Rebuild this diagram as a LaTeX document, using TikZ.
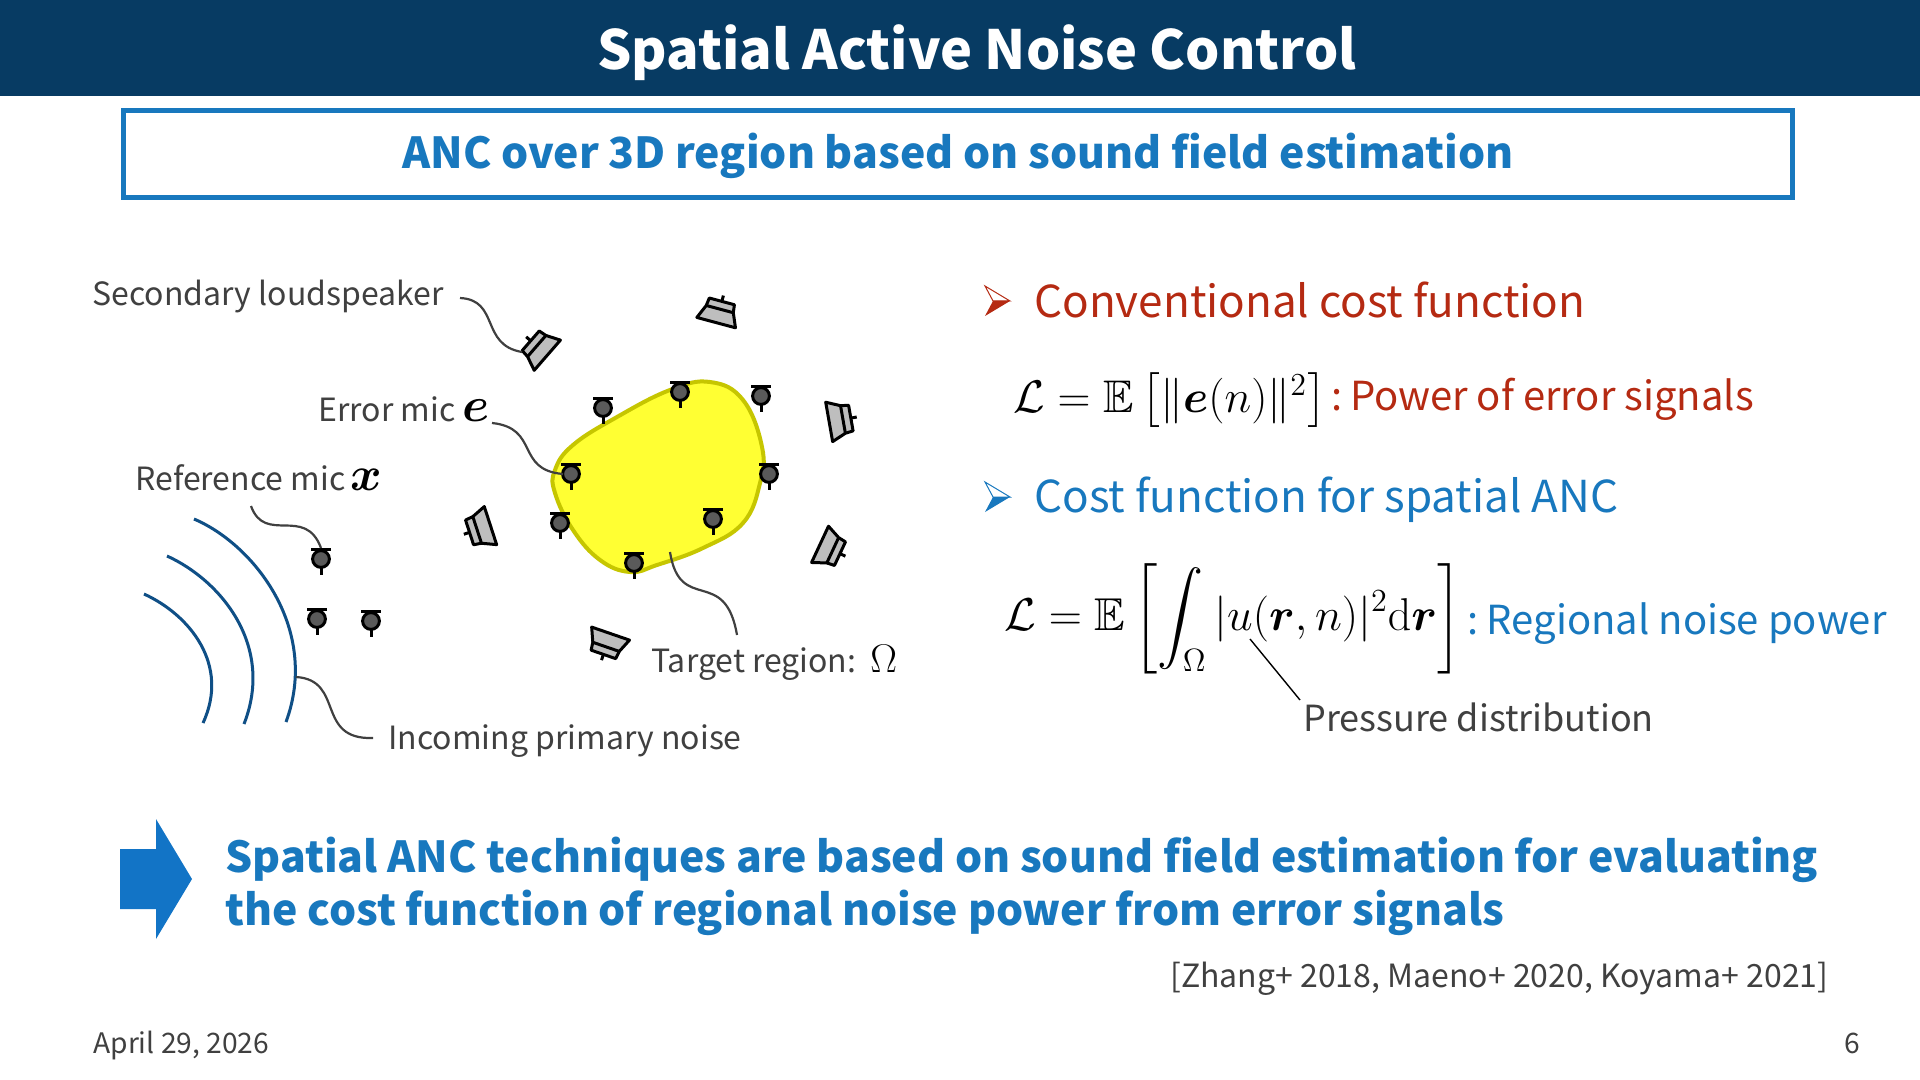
\RequirePackage{fix-cm}
\documentclass[tikz,border=0pt]{standalone}
\usepackage{amsmath,amssymb,bm}
\usepackage[no-math]{fontspec}
\setmainfont{Noto Sans CJK JP}
\usetikzlibrary{positioning, calc}
\definecolor{titlebar}{HTML}{073B63}
\definecolor{ancblue}{HTML}{1878BE}
\definecolor{arrowblue}{HTML}{1274C6}
\definecolor{ancred}{HTML}{B52A12}
\definecolor{textgray}{HTML}{404040}
\definecolor{wave}{HTML}{0F4F86}
\definecolor{regionfill}{HTML}{FFFF33}
\definecolor{regionedge}{HTML}{C6C600}
\definecolor{micgray}{HTML}{5A5A5A}
\definecolor{spkgray}{HTML}{BEBEBE}
\newcommand{\fsz}[1]{\fontsize{#1}{#1}\selectfont}
\tikzset{
  label/.style={anchor=base west, inner sep=0pt, text=textgray, font=\fsz{16}},
  leader/.style={draw=textgray, line width=1.1pt},
  wavefront/.style={draw=wave, line width=1.5pt},
  pics/mic/.style={code={
    \draw[line width=1.5pt] (-10,-9.5) -- (10,-9.5);
    \draw[line width=1.5pt] (0,8) -- (0,16);
    \draw[line width=1.5pt, fill=micgray] (0,0) circle (4.2pt);
  }},
  pics/spk/.style={code={
    \draw[line width=1.5pt] (0,-17) -- (0,-11);
    \draw[line width=1.5pt, fill=spkgray, line join=round]
      (-13,-11) -- (13,-11) -- (14,-3) -- (20,11) -- (-20,11) -- (-14,-3) -- cycle;
    \draw[line width=1.5pt] (-14,-3) -- (14,-3);
  }},
  pics/tick/.style={code={
    \draw[#1, line width=0.5pt, fill=white] (0,-15) -- (25,0) -- (8,0) -- cycle;
    \fill[#1] (0,15) -- (25,0) -- (8,0) -- cycle;
  }}
}
\begin{document}
\begin{tikzpicture}[x=0.5pt, y=-0.5pt]
    \useasboundingbox (0,0) rectangle (1920,1080);
    \fill[white] (0,0) rectangle (1920,1080);
    % header
    \fill[titlebar] (0,0) rectangle (1920,96);
    \node[text=white, font=\fsz{27}\bfseries] (title) at (977,53) {Spatial Active Noise Control};
    \node[draw=ancblue, line width=2.5pt, minimum width=834.5pt, minimum height=43.5pt,
          text height=19pt, text depth=4.6pt,
          text=ancblue, font=\fsz{21.35}\bfseries] (subtitle) at (958,154.5) {ANC over 3D region based on sound field estimation};

    % region
    \draw[fill=regionfill, draw=regionedge, line width=2pt] plot[smooth cycle, tension=0.7] coordinates {
      (710,382) (743,400) (762,447) (760,483) (743,523) (703,548) (657,565) (630,572)
      (600,560) (573,530) (555,493) (555,470) (573,445) (617,417) (670,390)};

    % mics
    \foreach \mx/\my in {603/408, 680/392, 761/396, 571/474, 769/474, 560/523, 713/519, 634/563,
                         321/559, 317/619, 371/621} {
      \pic at (\mx,\my) {mic};
    }
    % loudspeakers
    \foreach \sx/\sy/\sa in {539/348/49, 719/312/-15, 840/420/-80, 830/549/-115, 607/644/161, 480/529/108} {
      \pic[rotate=\sa] at (\sx,\sy) {spk};
    }

    % waves
    \draw[wavefront] (194,519) .. controls (255,545) and (320,630) .. (286,722);
    \draw[wavefront] (167,556) .. controls (220,580) and (275,645) .. (244,724);
    \draw[wavefront] (144,594) .. controls (190,615) and (230,665) .. (203,723);

    % labels
    \node[label] (lblspk) at (92,306) {Secondary loudspeaker};
    \node[label] (lblerr) at (318,421) {Error mic {\color{black}\fsz{24.5}$\bm{e}$}};
    \node[label] (lblref) at (135,490) {Reference mic\,{\color{black}\fsz{24}$\bm{x}$}};
    \node[label] (lbltarget) at (651,672) {Target region:\hspace{7pt}{\color{black}\fsz{20}$\Omega$}};
    \node[label] (lblnoise) at (388,749) {Incoming primary noise};
    \coordinate (spkend) at (522,352);
    \coordinate (errend) at (563,474);
    \coordinate (refstart) at (251,506);
    \coordinate (refend) at (321,548);
    \coordinate (targetstart) at (670,552);
    \coordinate (targetend) at (737,635);
    \coordinate (noisestart) at (296,677);
    \coordinate (noiseend) at (373,738);
    \coordinate (spkstart) at (460,298);
    \coordinate (errstart) at (492,423);
    \draw[leader] (spkstart) .. controls (500,300) and (480,345) .. (spkend);
    \draw[leader] (errstart) .. controls (540,428) and (515,470) .. (errend);
    \draw[leader] (refstart) .. controls (265,545) and (305,505) .. (refend);
    \draw[leader] (targetstart) .. controls (680,615) and (725,565) .. (targetend);
    \draw[leader] (noisestart) .. controls (345,680) and (315,740) .. (noiseend);

    % right column
    \pic at (985,301) {tick=ancred};
    \node[label, text=ancred, font=\fsz{22}] (conv) at (1034,318) {Conventional cost function};
    \node[anchor=base west, inner sep=0pt, font=\fsz{22.85}] (eqconv) at (1013,412)
      {$\mathcal{L}=\mathbb{E}\left[\|\bm{e}(n)\|^2\right]$};
    \node[label, text=ancred, font=\fsz{20}] (powerlbl) at (1331,410) {:\kern-0.7pt\ Power of error signals};
    \pic at (985,497) {tick=ancblue};
    \node[label, text=ancblue, font=\fsz{22}] (spatial) at (1034,512) {Cost function for spatial ANC};
    \node[anchor=base west, inner sep=0pt, font=\fsz{23}] (eqspatial) at (1004,630)
      {$\mathcal{L}=\mathbb{E}\left[\displaystyle\int_{\Omega}|u(\bm{r},n)|^2\mathrm{d}\bm{r}\right]$};
    \node[label, text=ancblue, font=\fsz{20}] (regionlbl) at (1467,634) {:\kern-0.3pt\ Regional noise power};
    \node[label, font=\fsz{18}] (pressure) at (1303,731) {Pressure distribution};
    \coordinate (pressurestart) at (1250,639);
    \draw[line width=0.7pt] (pressurestart) -- (1300,700);

    % conclusion
    \fill[arrowblue] (120,849) -- (156,849) -- (156,819) -- (192,879) -- (156,939) -- (156,909) -- (120,909) -- cycle;
    \node[anchor=base west, inner sep=0pt, text=ancblue, font=\fsz{21.35}\bfseries, align=left] (concl1) at (225,872)
      {Spatial ANC techniques are based on sound field estimation for evaluating};
    \node[anchor=base west, inner sep=0pt, text=ancblue, font=\fsz{21.35}\bfseries, align=left] (concl2) at (225,925)
      {the cost function of regional noise power from error signals};
    \node[label] (refs) at (1170,987) {[Zhang+ 2018, Maeno+ 2020, Koyama+ 2021]};
    \node[label, font=\fsz{14.1}] (date) at (93,1053) {April 29, 2026};
    \node[label, font=\fsz{14.1}] (page) at (1844,1053) {6};
  \end{tikzpicture}
\end{document}
